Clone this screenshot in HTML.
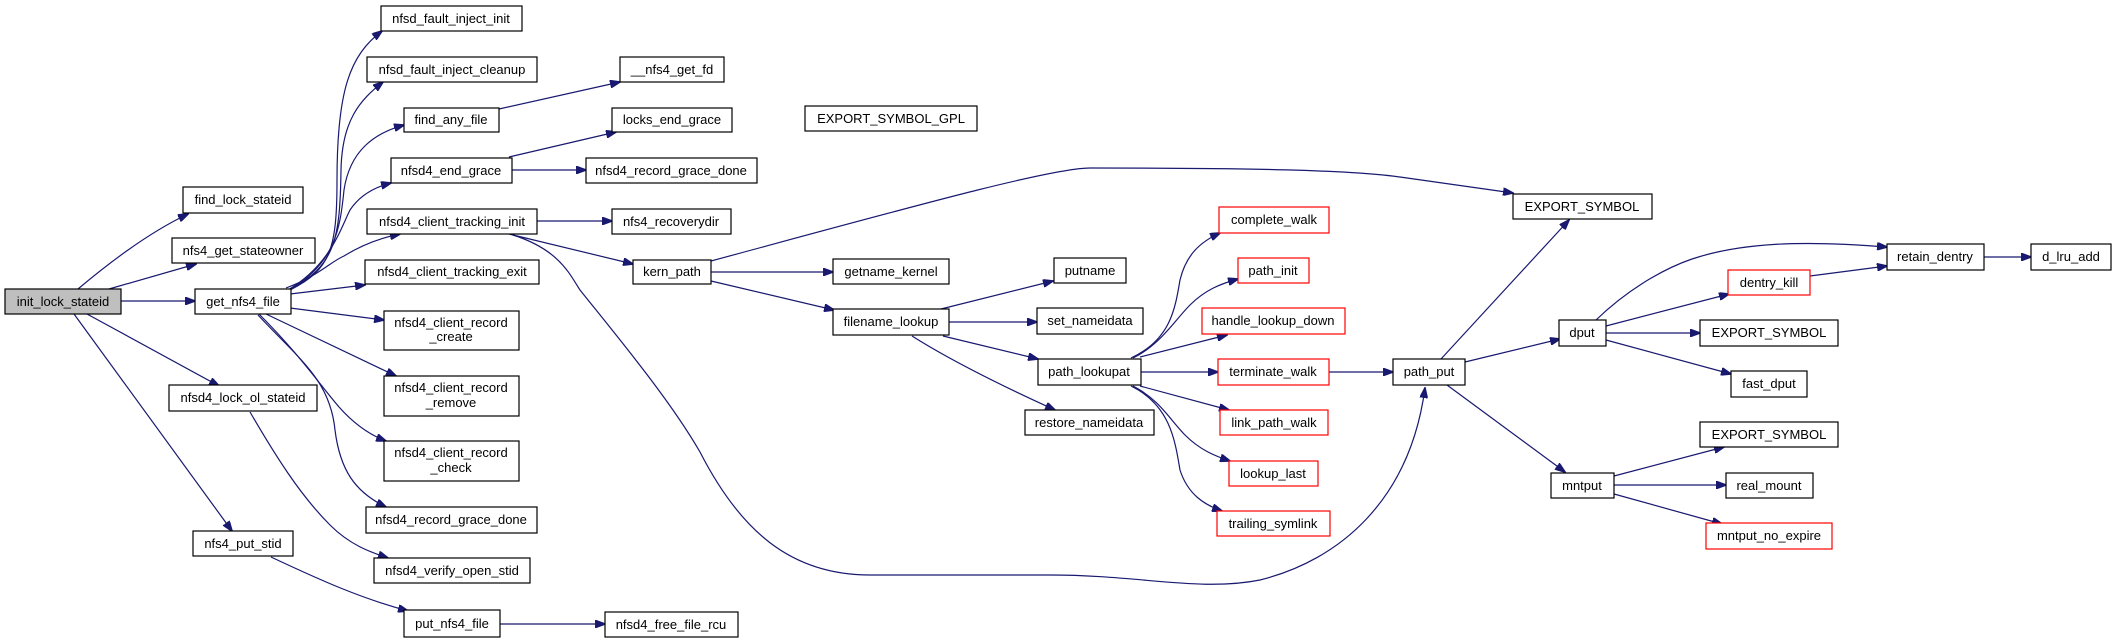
<!DOCTYPE html>
<html><head><meta charset="utf-8"><style>
html,body{margin:0;padding:0;background:#fff;}
svg{display:block;}
text{font-family:"Liberation Sans",sans-serif;font-size:13px;fill:#000;text-anchor:middle;}
.n{fill:#fff;stroke:#000;stroke-width:1.2;}
.r{fill:#fff;stroke:#f00;stroke-width:1.2;}
.g{fill:#bfbfbf;stroke:#000;stroke-width:1.2;}
path.e{fill:none;stroke:#191970;stroke-width:1.2;marker-end:url(#a);}
</style></head><body>
<svg width="2116" height="644" viewBox="0 0 2116 644" xmlns="http://www.w3.org/2000/svg">
<defs><marker id="a" markerWidth="11" markerHeight="8" refX="10" refY="4" orient="auto" markerUnits="userSpaceOnUse"><path d="M0,0 L11,4 L0,8 z" fill="#191970" stroke="#191970"/></marker></defs>
<path class="e" d="M78,289 C110,262 150,232 188,214"/>
<path class="e" d="M109,289 L196,264"/>
<path class="e" d="M121,301 L195,301"/>
<path class="e" d="M87,314 L219,386"/>
<path class="e" d="M74,314 L232,531"/>
<path class="e" d="M290,290 C330,270 337,250 337,180 C337,90 350,55 382,31"/>
<path class="e" d="M290,290 C335,265 340,240 341,170 C342,120 360,100 383,82"/>
<path class="e" d="M290,290 C335,262 340,230 344,190 C350,150 375,133 404,125"/>
<path class="e" d="M288,290 C330,265 340,230 350,210 C360,195 375,187 391,183"/>
<path class="e" d="M286,288 C320,275 330,262 344,256 C360,246 380,238 400,234"/>
<path class="e" d="M290,294 L365,285"/>
<path class="e" d="M290,308 L384,320"/>
<path class="e" d="M266,314 L396,376"/>
<path class="e" d="M259,314 C300,355 320,385 339,407 C355,425 370,435 386,441"/>
<path class="e" d="M258,315 C300,360 330,380 335,430 C340,470 355,492 386,507"/>
<path class="e" d="M250,412 C275,455 300,495 330,525 C350,545 370,552 388,558"/>
<path class="e" d="M271,557 C320,580 360,598 408,611"/>
<path class="e" d="M500,624 L605,624"/>
<path class="e" d="M499,109 L620,82"/>
<path class="e" d="M509,157 L616,132"/>
<path class="e" d="M512,170 L586,170"/>
<path class="e" d="M537,221 L612,221"/>
<path class="e" d="M509,234 L633,264"/>
<path class="e" d="M513,235 C560,250 570,275 580,290 C620,340 670,400 700,452 C740,530 790,575 870,575 L1050,575 C1140,575 1200,592 1260,580 C1340,560 1410,500 1425,388"/>
<path class="e" d="M711,261 C900,210 1050,168 1090,168 C1250,168 1350,170 1400,177 L1513,193"/>
<path class="e" d="M711,272 L833,272"/>
<path class="e" d="M711,281 L834,310"/>
<path class="e" d="M941,309 L1053,281"/>
<path class="e" d="M949,322 L1037,322"/>
<path class="e" d="M943,336 L1038,359"/>
<path class="e" d="M912,336 C950,360 1000,385 1055,410"/>
<path class="e" d="M1131,358 C1170,340 1175,310 1180,280 C1186,255 1200,242 1220,233"/>
<path class="e" d="M1133,358 C1160,345 1175,320 1190,305 C1205,290 1220,284 1238,279"/>
<path class="e" d="M1140,357 L1227,335"/>
<path class="e" d="M1141,372 L1218,372"/>
<path class="e" d="M1140,386 L1229,410"/>
<path class="e" d="M1133,386 C1160,400 1170,420 1185,435 C1200,450 1215,456 1230,461"/>
<path class="e" d="M1131,386 C1170,405 1175,440 1180,470 C1188,495 1205,505 1222,511"/>
<path class="e" d="M1329,372 L1393,372"/>
<path class="e" d="M1441,359 L1569,220"/>
<path class="e" d="M1465,362 L1560,339"/>
<path class="e" d="M1447,385 L1565,472"/>
<path class="e" d="M1596,320 C1625,292 1660,270 1692,259 C1740,243 1800,240 1887,247"/>
<path class="e" d="M1606,326 L1729,294"/>
<path class="e" d="M1606,333 L1700,333"/>
<path class="e" d="M1606,340 L1731,374"/>
<path class="e" d="M1810,276 L1887,266"/>
<path class="e" d="M1984,257 L2031,257"/>
<path class="e" d="M1614,476 L1724,447"/>
<path class="e" d="M1614,485 L1726,485"/>
<path class="e" d="M1614,494 L1722,524"/>
<rect class="g" x="5" y="289" width="116" height="25"/><text x="63" y="306">init_lock_stateid</text>
<rect class="n" x="183" y="187" width="120" height="26"/><text x="243" y="204">find_lock_stateid</text>
<rect class="n" x="172" y="238" width="143" height="25"/><text x="243" y="255">nfs4_get_stateowner</text>
<rect class="n" x="195" y="289" width="96" height="25"/><text x="243" y="306">get_nfs4_file</text>
<rect class="n" x="169" y="385" width="148" height="26"/><text x="243" y="402">nfsd4_lock_ol_stateid</text>
<rect class="n" x="193" y="531" width="100" height="25"/><text x="243" y="548">nfs4_put_stid</text>
<rect class="n" x="381" y="6" width="141" height="25"/><text x="451" y="23">nfsd_fault_inject_init</text>
<rect class="n" x="367" y="57" width="170" height="25"/><text x="452" y="74">nfsd_fault_inject_cleanup</text>
<rect class="n" x="404" y="108" width="95" height="24"/><text x="451" y="124">find_any_file</text>
<rect class="n" x="391" y="158" width="121" height="25"/><text x="451" y="175">nfsd4_end_grace</text>
<rect class="n" x="367" y="209" width="170" height="25"/><text x="452" y="226">nfsd4_client_tracking_init</text>
<rect class="n" x="365" y="260" width="174" height="24"/><text x="452" y="276">nfsd4_client_tracking_exit</text>
<rect class="n" x="384" y="311" width="135" height="39"/><text x="451" y="327">nfsd4_client_record</text><text x="451" y="341">_create</text>
<rect class="n" x="384" y="376" width="135" height="40"/><text x="451" y="392">nfsd4_client_record</text><text x="451" y="407">_remove</text>
<rect class="n" x="384" y="441" width="135" height="40"/><text x="451" y="457">nfsd4_client_record</text><text x="451" y="472">_check</text>
<rect class="n" x="366" y="507" width="171" height="26"/><text x="451" y="524">nfsd4_record_grace_done</text>
<rect class="n" x="374" y="558" width="156" height="25"/><text x="452" y="575">nfsd4_verify_open_stid</text>
<rect class="n" x="404" y="610" width="96" height="27"/><text x="452" y="628">put_nfs4_file</text>
<rect class="n" x="620" y="57" width="104" height="25"/><text x="672" y="74">__nfs4_get_fd</text>
<rect class="n" x="612" y="108" width="120" height="24"/><text x="672" y="124">locks_end_grace</text>
<rect class="n" x="586" y="158" width="171" height="25"/><text x="671" y="175">nfsd4_record_grace_done</text>
<rect class="n" x="612" y="209" width="119" height="25"/><text x="671" y="226">nfs4_recoverydir</text>
<rect class="n" x="633" y="260" width="78" height="24"/><text x="672" y="276">kern_path</text>
<rect class="n" x="605" y="612" width="133" height="25"/><text x="671" y="629">nfsd4_free_file_rcu</text>
<rect class="n" x="805" y="106" width="172" height="25"/><text x="891" y="123">EXPORT_SYMBOL_GPL</text>
<rect class="n" x="833" y="259" width="116" height="25"/><text x="891" y="276">getname_kernel</text>
<rect class="n" x="833" y="309" width="116" height="26"/><text x="891" y="326">filename_lookup</text>
<rect class="n" x="1054" y="258" width="72" height="25"/><text x="1090" y="275">putname</text>
<rect class="n" x="1037" y="308" width="106" height="26"/><text x="1090" y="325">set_nameidata</text>
<rect class="n" x="1038" y="359" width="103" height="26"/><text x="1089" y="376">path_lookupat</text>
<rect class="n" x="1025" y="410" width="129" height="25"/><text x="1089" y="427">restore_nameidata</text>
<rect class="r" x="1219" y="207" width="110" height="26"/><text x="1274" y="224">complete_walk</text>
<rect class="r" x="1238" y="258" width="71" height="25"/><text x="1273" y="275">path_init</text>
<rect class="r" x="1202" y="308" width="143" height="26"/><text x="1273" y="325">handle_lookup_down</text>
<rect class="r" x="1218" y="359" width="111" height="26"/><text x="1273" y="376">terminate_walk</text>
<rect class="r" x="1220" y="410" width="108" height="25"/><text x="1274" y="427">link_path_walk</text>
<rect class="r" x="1229" y="461" width="89" height="25"/><text x="1273" y="478">lookup_last</text>
<rect class="r" x="1217" y="511" width="113" height="25"/><text x="1273" y="528">trailing_symlink</text>
<rect class="n" x="1393" y="359" width="72" height="26"/><text x="1429" y="376">path_put</text>
<rect class="n" x="1513" y="194" width="139" height="25"/><text x="1582" y="211">EXPORT_SYMBOL</text>
<rect class="n" x="1559" y="320" width="47" height="26"/><text x="1582" y="337">dput</text>
<rect class="r" x="1728" y="270" width="82" height="25"/><text x="1769" y="287">dentry_kill</text>
<rect class="n" x="1700" y="320" width="138" height="26"/><text x="1769" y="337">EXPORT_SYMBOL</text>
<rect class="n" x="1731" y="371" width="76" height="26"/><text x="1769" y="388">fast_dput</text>
<rect class="n" x="1887" y="244" width="97" height="26"/><text x="1935" y="261">retain_dentry</text>
<rect class="n" x="2031" y="244" width="80" height="26"/><text x="2071" y="261">d_lru_add</text>
<rect class="n" x="1551" y="473" width="63" height="25"/><text x="1582" y="490">mntput</text>
<rect class="n" x="1700" y="422" width="138" height="25"/><text x="1769" y="439">EXPORT_SYMBOL</text>
<rect class="n" x="1726" y="473" width="87" height="25"/><text x="1769" y="490">real_mount</text>
<rect class="r" x="1706" y="523" width="126" height="26"/><text x="1769" y="540">mntput_no_expire</text>
</svg>
</body></html>
